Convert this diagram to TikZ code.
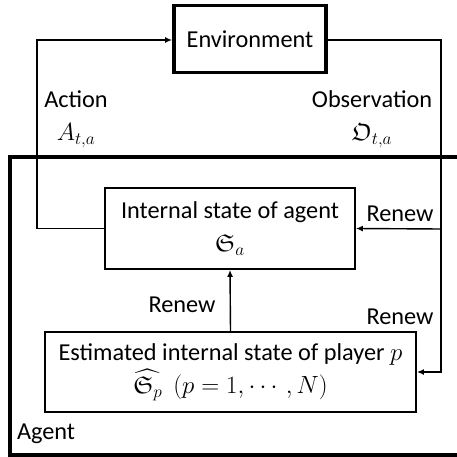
\documentclass[tikz,border=0pt]{standalone}
\usepackage{amsmath,amssymb}
\usepackage{fontspec}
\setmainfont{Carlito}
\usepackage{tikz}
\usetikzlibrary{arrows.meta}

\begin{document}
\begin{tikzpicture}[x=1pt,y=-1pt,font=\fontsize{24.3}{33}\selectfont,line width=1.4pt,
  boxthin/.style={draw,line width=1.8pt,align=center,inner sep=0pt},
  boxthick/.style={draw,line width=3.8pt,align=center,inner sep=0pt},
  tip/.style={-{Latex[length=7pt,width=6pt]}}]
\clip (0,0) rectangle (457,457);
\node[boxthick,minimum width=152pt,minimum height=67pt] at (250,39) (env) {Environment};
\node[boxthin,minimum width=250pt,minimum height=81pt] at (230,228.5) (int) {Internal state of agent\\$\mathfrak{S}_a$};
\node[boxthin,minimum width=371pt,minimum height=80pt] at (230.5,372) (est) {Estimated internal state of player $p$\\$\widehat{\mathfrak{S}_p}\ \ (p=1,\cdots,N)$};
\coordinate (lc) at (37,40);
\coordinate (rc) at (441,40);
\coordinate (tap) at (441,229);
\node[align=center] at (76,119) (act) {Action\\$A_{t,a}$};
\node[align=center] at (372,119) (obs) {Observation\\$\mathfrak{O}_{t,a}$};
\node at (400,214) (rn1) {Renew};
\node at (182,305) (rn2) {Renew};
\node at (400,317) (rn3) {Renew};
\node[anchor=west] at (13,434) (agt) {Agent};
\draw[line width=4pt] (480,157) -- (9.5,157) -- (9.5,455) -- (480,455);
\draw[tip] (int.west) -| (lc) -- (lc -| env.west);
\draw[tip] (env.east |- rc) -- (rc) -- (441,372) -- (est.east);
\draw[tip] (tap) -- (int.east);
\draw[tip] (est.north) -- (int.south);
\end{tikzpicture}
\end{document}
